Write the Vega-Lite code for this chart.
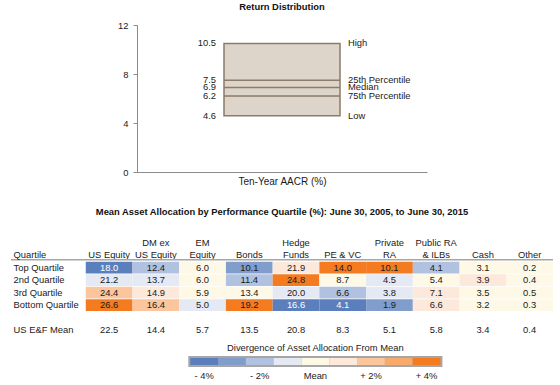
{
  "$schema": "https://vega.github.io/schema/vega-lite/v6.json",
  "autosize": {"type": "pad"},
  "padding": {"left": 10, "top": 1, "right": 8, "bottom": 2},
  "background": "white",
  "bounds": "flush",
  "center": true,
  "spacing": 8,
  "config": {
    "font": "Liberation Sans",
    "view": {"stroke": null},
    "axis": {"labelFont": "Liberation Sans", "titleFont": "Liberation Sans", "grid": false},
    "title": {"font": "Liberation Sans", "fontSize": 9.4, "fontWeight": "bold", "color": "#111111", "anchor": "middle"},
    "text": {"font": "Liberation Sans", "fontSize": 9.4, "color": "#1a1a1a"}
  },
  "vconcat": [
    {
      "width": 290,
      "height": 147,
      "title": {"text": "Return Distribution", "offset": 8},
      "data": {"values": [
        {"cat": "Ten-Year AACR (%)", "stat": "High", "v": 10.5},
        {"cat": "Ten-Year AACR (%)", "stat": "25th Percentile", "v": 7.5},
        {"cat": "Ten-Year AACR (%)", "stat": "Median", "v": 6.9},
        {"cat": "Ten-Year AACR (%)", "stat": "75th Percentile", "v": 6.2},
        {"cat": "Ten-Year AACR (%)", "stat": "Low", "v": 4.6}
      ]},
      "layer": [
        {
          "mark": {"type": "rect", "fill": "#ddd4ca", "stroke": "#8b7b6b", "strokeWidth": 1.5},
          "encoding": {
            "x": {"field": "cat", "type": "nominal", "scale": {"paddingOuter": 0.75, "paddingInner": 0},
              "axis": {"labels": false, "ticks": false, "domainColor": "#8c8c8c", "title": "Ten-Year AACR (%)", "titlePadding": 4, "titleFontSize": 10, "titleFontWeight": "normal", "titleColor": "#1a1a1a"}},
            "y": {"aggregate": "min", "field": "v", "type": "quantitative", "scale": {"domain": [0, 12]},
              "axis": {"values": [0, 4, 8, 12], "title": null, "tickSize": 4, "labelPadding": 5, "domainColor": "#8c8c8c", "tickColor": "#8c8c8c", "labelFontSize": 9.4, "labelColor": "#1a1a1a"}},
            "y2": {"aggregate": "max", "field": "v"}
          }
        },
        {
          "transform": [{"filter": "datum.stat != 'High' && datum.stat != 'Low'"}],
          "mark": {"type": "rect", "fill": null, "stroke": "#8b7b6b", "strokeWidth": 1.5},
          "encoding": {
            "x": {"field": "cat", "type": "nominal"},
            "y": {"field": "v", "type": "quantitative"},
            "y2": {"field": "v"}
          }
        },
        {
          "mark": {"type": "text", "align": "right", "dx": -8},
          "encoding": {
            "x": {"field": "cat", "type": "nominal", "bandPosition": 0},
            "y": {"field": "v", "type": "quantitative"},
            "text": {"field": "v", "type": "quantitative", "format": ".1f"}
          }
        },
        {
          "mark": {"type": "text", "align": "left", "dx": 8},
          "encoding": {
            "x": {"field": "cat", "type": "nominal", "bandPosition": 1},
            "y": {"field": "v", "type": "quantitative"},
            "text": {"field": "stat"}
          }
        }
      ]
    },
    {
      "width": 542,
      "height": 156,
      "title": {"text": "Mean Asset Allocation by Performance Quartile (%): June 30, 2005, to June 30, 2015", "offset": -37},
      "layer": [
        {
          "data": {"name": "cells", "values": [
            {"q": "Top Quartile", "a": "US Equity", "v": 18.0, "lv": -4},
            {"q": "2nd Quartile", "a": "US Equity", "v": 21.2, "lv": -1},
            {"q": "3rd Quartile", "a": "US Equity", "v": 24.4, "lv": 2},
            {"q": "Bottom Quartile", "a": "US Equity", "v": 26.6, "lv": 4},
            {"q": "Top Quartile", "a": "DM ex US Equity", "v": 12.4, "lv": -2},
            {"q": "2nd Quartile", "a": "DM ex US Equity", "v": 13.7, "lv": -1},
            {"q": "3rd Quartile", "a": "DM ex US Equity", "v": 14.9, "lv": 1},
            {"q": "Bottom Quartile", "a": "DM ex US Equity", "v": 16.4, "lv": 2},
            {"q": "Top Quartile", "a": "EM Equity", "v": 6.0, "lv": 0},
            {"q": "2nd Quartile", "a": "EM Equity", "v": 6.0, "lv": 0},
            {"q": "3rd Quartile", "a": "EM Equity", "v": 5.9, "lv": 0},
            {"q": "Bottom Quartile", "a": "EM Equity", "v": 5.0, "lv": -1},
            {"q": "Top Quartile", "a": "Bonds", "v": 10.1, "lv": -3},
            {"q": "2nd Quartile", "a": "Bonds", "v": 11.4, "lv": -2},
            {"q": "3rd Quartile", "a": "Bonds", "v": 13.4, "lv": 0},
            {"q": "Bottom Quartile", "a": "Bonds", "v": 19.2, "lv": 4},
            {"q": "Top Quartile", "a": "Hedge Funds", "v": 21.9, "lv": 1},
            {"q": "2nd Quartile", "a": "Hedge Funds", "v": 24.8, "lv": 4},
            {"q": "3rd Quartile", "a": "Hedge Funds", "v": 20.0, "lv": -1},
            {"q": "Bottom Quartile", "a": "Hedge Funds", "v": 16.6, "lv": -4},
            {"q": "Top Quartile", "a": "PE & VC", "v": 14.0, "lv": 4},
            {"q": "2nd Quartile", "a": "PE & VC", "v": 8.7, "lv": 0},
            {"q": "3rd Quartile", "a": "PE & VC", "v": 6.6, "lv": -2},
            {"q": "Bottom Quartile", "a": "PE & VC", "v": 4.1, "lv": -4},
            {"q": "Top Quartile", "a": "Private RA", "v": 10.1, "lv": 4},
            {"q": "2nd Quartile", "a": "Private RA", "v": 4.5, "lv": -1},
            {"q": "3rd Quartile", "a": "Private RA", "v": 3.8, "lv": -1},
            {"q": "Bottom Quartile", "a": "Private RA", "v": 1.9, "lv": -3},
            {"q": "Top Quartile", "a": "Public RA & ILBs", "v": 4.1, "lv": -2},
            {"q": "2nd Quartile", "a": "Public RA & ILBs", "v": 5.4, "lv": 0},
            {"q": "3rd Quartile", "a": "Public RA & ILBs", "v": 7.1, "lv": 1},
            {"q": "Bottom Quartile", "a": "Public RA & ILBs", "v": 6.6, "lv": 1},
            {"q": "Top Quartile", "a": "Cash", "v": 3.1, "lv": 0},
            {"q": "2nd Quartile", "a": "Cash", "v": 3.9, "lv": 1},
            {"q": "3rd Quartile", "a": "Cash", "v": 3.5, "lv": 0},
            {"q": "Bottom Quartile", "a": "Cash", "v": 3.2, "lv": 0},
            {"q": "Top Quartile", "a": "Other", "v": 0.2, "lv": 0},
            {"q": "2nd Quartile", "a": "Other", "v": 0.4, "lv": 0},
            {"q": "3rd Quartile", "a": "Other", "v": 0.5, "lv": 0},
            {"q": "Bottom Quartile", "a": "Other", "v": 0.3, "lv": 0}
          ]},
          "mark": {"type": "rect"},
          "encoding": {
            "x": {"field": "a", "type": "nominal",
              "scale": {"domain": ["US Equity", "DM ex US Equity", "EM Equity", "Bonds", "Hedge Funds", "PE & VC", "Private RA", "Public RA & ILBs", "Cash", "Other"], "paddingInner": 0, "paddingOuter": 0.8, "align": 1},
              "axis": null},
            "y": {"field": "q", "type": "nominal",
              "scale": {"domain": ["b1", "b2", "b3", "b4", "b5", "Quartile", "Top Quartile", "2nd Quartile", "3rd Quartile", "Bottom Quartile", "gap", "US E&F Mean"], "paddingInner": 0.06, "paddingOuter": 0.27, "align": 1},
              "axis": {"title": null, "domain": false, "ticks": false, "tickSize": 0, "labelAlign": "left", "labelPadding": -2, "labelFontSize": 9.4, "labelColor": "#1a1a1a", "labelExpr": "indexof(['b1','b2','b3','b4','b5','gap'], datum.value) >= 0 ? '' : datum.value"}},
            "color": {"field": "lv", "type": "ordinal",
              "scale": {"domain": [-4, -3, -2, -1, 0, 1, 2, 3, 4], "range": ["#5b7fbd", "#809dcc", "#b0c2df", "#e4e9f3", "#fef8e6", "#fde9dc", "#fbc69d", "#f8aa6a", "#f47b20"]},
              "legend": null}
          }
        },
        {
          "data": {"name": "cells"},
          "mark": {"type": "text"},
          "encoding": {
            "x": {"field": "a", "type": "nominal"},
            "y": {"field": "q", "type": "nominal"},
            "text": {"field": "v", "type": "quantitative", "format": ".1f"},
            "color": {"condition": {"test": "datum.lv == -4", "value": "white"}, "value": "#1a1a1a"}
          }
        },
        {
          "data": {"values": [
            {"a": "US Equity", "v": 22.5},
            {"a": "DM ex US Equity", "v": 14.4},
            {"a": "EM Equity", "v": 5.7},
            {"a": "Bonds", "v": 13.5},
            {"a": "Hedge Funds", "v": 20.8},
            {"a": "PE & VC", "v": 8.3},
            {"a": "Private RA", "v": 5.1},
            {"a": "Public RA & ILBs", "v": 5.8},
            {"a": "Cash", "v": 3.4},
            {"a": "Other", "v": 0.4}
          ]},
          "mark": {"type": "text"},
          "encoding": {
            "x": {"field": "a", "type": "nominal"},
            "y": {"datum": "US E&F Mean", "type": "nominal"},
            "text": {"field": "v", "type": "quantitative", "format": ".1f"}
          }
        },
        {
          "data": {"name": "heads", "values": [
            {"a": "US Equity", "l1": "", "l2": "US Equity"},
            {"a": "DM ex US Equity", "l1": "DM ex", "l2": "US Equity"},
            {"a": "EM Equity", "l1": "EM", "l2": "Equity"},
            {"a": "Bonds", "l1": "", "l2": "Bonds"},
            {"a": "Hedge Funds", "l1": "Hedge", "l2": "Funds"},
            {"a": "PE & VC", "l1": "", "l2": "PE & VC"},
            {"a": "Private RA", "l1": "Private", "l2": "RA"},
            {"a": "Public RA & ILBs", "l1": "Public RA", "l2": "& ILBs"},
            {"a": "Cash", "l1": "", "l2": "Cash"},
            {"a": "Other", "l1": "", "l2": "Other"}
          ]},
          "mark": {"type": "text"},
          "encoding": {
            "x": {"field": "a", "type": "nominal"},
            "y": {"datum": "Quartile", "type": "nominal"},
            "text": {"field": "l2"}
          }
        },
        {
          "data": {"name": "heads"},
          "transform": [{"filter": "datum.l1 != ''"}],
          "mark": {"type": "text"},
          "encoding": {
            "x": {"field": "a", "type": "nominal"},
            "y": {"datum": "b5", "type": "nominal", "bandPosition": 0.55},
            "text": {"field": "l1"}
          }
        },
        {
          "data": {"values": [{"r": 1}]},
          "mark": {"type": "rule", "color": "#a6a6a6", "strokeWidth": 1.5},
          "encoding": {
            "y": {"datum": "Quartile", "type": "nominal", "bandPosition": 0.9}
          }
        }
      ]
    },
    {
      "width": 542,
      "height": 35,
      "data": {"values": [
        {"lv": -4, "lab": "- 4%"},
        {"lv": -3, "lab": ""},
        {"lv": -2, "lab": "- 2%"},
        {"lv": -1, "lab": ""},
        {"lv": 0, "lab": "Mean"},
        {"lv": 1, "lab": ""},
        {"lv": 2, "lab": "+ 2%"},
        {"lv": 3, "lab": ""},
        {"lv": 4, "lab": "+ 4%"}
      ]},
      "layer": [
        {
          "mark": {"type": "rect", "fill": "#a6a6a6", "stroke": "#a6a6a6", "strokeWidth": 4},
          "encoding": {
            "x": {"field": "lv", "type": "ordinal",
              "scale": {"domain": [-10, -9, -8, -7, -6, -5, -4, -3, -2, -1, 0, 1, 2, 3, 4, 5, 6, 7, 8], "paddingInner": 0, "paddingOuter": 0.25, "align": 0.9},
              "axis": null},
            "y": {"datum": "bar", "type": "nominal",
              "scale": {"domain": ["title", "g1", "bar", "g2", "labels"], "paddingInner": 0, "paddingOuter": 0},
              "axis": null}
          }
        },
        {
          "mark": {"type": "rect"},
          "encoding": {
            "x": {"field": "lv", "type": "ordinal"},
            "y": {"datum": "bar", "type": "nominal"},
            "color": {"field": "lv", "type": "ordinal",
              "scale": {"domain": [-4, -3, -2, -1, 0, 1, 2, 3, 4], "range": ["#5b7fbd", "#809dcc", "#b0c2df", "#e4e9f3", "#fef8e6", "#fde9dc", "#fbc69d", "#f8aa6a", "#f47b20"]},
              "legend": null}
          }
        },
        {
          "transform": [{"filter": "datum.lab != ''"}],
          "mark": {"type": "text"},
          "encoding": {
            "x": {"field": "lv", "type": "ordinal"},
            "y": {"datum": "labels", "type": "nominal", "bandPosition": 0.57},
            "text": {"field": "lab"}
          }
        },
        {
          "data": {"values": [{"t": "Divergence of Asset Allocation From Mean"}]},
          "mark": {"type": "text"},
          "encoding": {
            "x": {"datum": 0, "type": "ordinal"},
            "y": {"datum": "title", "type": "nominal", "bandPosition": 0.57},
            "text": {"field": "t"}
          }
        }
      ]
    }
  ]
}
